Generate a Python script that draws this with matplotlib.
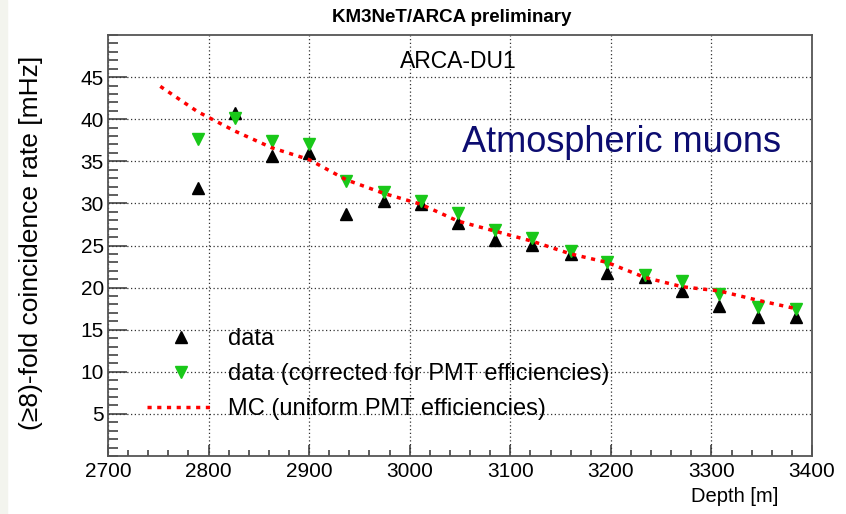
import matplotlib
matplotlib.use('Agg')
import matplotlib.pyplot as plt
from matplotlib.ticker import MultipleLocator
from matplotlib.patches import Rectangle

# depth of each DOM [m] and measured (>=8)-fold coincidence rates [mHz]
depth = [2789, 2826, 2863, 2900, 2937, 2974, 3011, 3048, 3085,
         3122, 3160, 3196, 3234, 3271, 3308, 3346, 3384]
rate_data = [31.8, 40.7, 35.6, 36.0, 28.8, 30.3, 29.9, 27.7, 25.7,
             25.1, 24.0, 21.7, 21.2, 19.6, 17.8, 16.5, 16.5]
rate_corr = [37.7, 40.1, 37.4, 37.0, 32.7, 31.4, 30.3, 28.9, 26.8,
             25.9, 24.4, 23.0, 21.5, 20.8, 19.2, 17.7, 17.5]

# MC prediction
mc_depth = [2752, 2789, 2826, 2863, 2900, 2937, 2974, 3011, 3048,
            3085, 3122, 3160, 3196, 3234, 3271, 3308, 3346, 3384]
mc_rate = [43.9, 40.9, 38.6, 36.6, 35.2, 32.8, 31.2, 29.9, 27.9,
           26.7, 25.5, 24.0, 23.0, 21.2, 20.1, 19.6, 18.5, 17.5]

xticks = [2700, 2800, 2900, 3000, 3100, 3200, 3300, 3400]
yticks = [5, 10, 15, 20, 25, 30, 35, 40, 45]

plt.rcParams['font.family'] = ['Liberation Sans', 'DejaVu Sans']

W, H = 846, 514
fig = plt.figure(figsize=(W / 100, H / 100), dpi=100)
fig.patches.append(Rectangle((0, 0), 7 / W, 1, transform=fig.transFigure,
                             color='#f3f4ee', zorder=0))

ax = fig.add_axes([108 / W, 1 - 456 / H, (812 - 108) / W, (456 - 35) / H])

ax.plot(depth, rate_data, ls='none', marker='^', ms=9, color='black',
        label='data', zorder=3)
ax.plot(depth, rate_corr, ls='none', marker='v', ms=9, color='#19c819',
        label='data (corrected for PMT efficiencies)', zorder=3.5)
ax.plot(mc_depth, mc_rate, color='red', lw=2.5, ls=(0, (1.2, 1.6)),
        label='MC (uniform PMT efficiencies)', zorder=4)

ax.set_xlim(2700, 3400)
ax.set_ylim(0, 50)
ax.set_xticks(xticks)
ax.set_yticks(yticks)
ax.xaxis.set_minor_locator(MultipleLocator(20))
ax.yaxis.set_minor_locator(MultipleLocator(1))
ax.tick_params(axis='both', which='both', direction='in', top=False, right=False,
               width=1.1, color='#333333', labelsize=15)
ax.tick_params(axis='x', which='major', length=8, pad=4)
ax.tick_params(axis='x', which='minor', length=4.5)
ax.tick_params(axis='y', which='major', length=14, pad=3)
ax.tick_params(axis='y', which='minor', length=7)
ax.grid(True, which='major', color='#333333', lw=0.9, ls=(0, (1, 2)))
for s in ax.spines.values():
    s.set_color('#555555')
    s.set_linewidth(1.3)

fig.text(452 / W, 1 - 17 / H, 'KM3NeT/ARCA preliminary', ha='center', va='center',
         fontsize=13.5, fontweight='bold')
fig.text(458 / W, 1 - 62 / H, 'ARCA-DU1', ha='center', va='center', fontsize=16.5)
fig.text(622 / W, 1 - 142 / H, 'Atmospheric muons', ha='center', va='center',
         fontsize=26, color='#0c0c70')
fig.text(31 / W, 1 - 243 / H, '(≥8)-fold coincidence rate [mHz]', rotation=90,
         ha='center', va='center', fontsize=19)
fig.text(778 / W, 1 - 497 / H, 'Depth [m]', ha='right', va='center', fontsize=14.5)

ax.legend(loc='upper left', bbox_to_anchor=(147 / W, 1 - 328 / H),
          bbox_transform=fig.transFigure, frameon=False, fontsize=17,
          handlelength=2.88, handletextpad=0.55, labelspacing=0.55,
          borderpad=0, borderaxespad=0)

fig.savefig('out.png', dpi=100)
